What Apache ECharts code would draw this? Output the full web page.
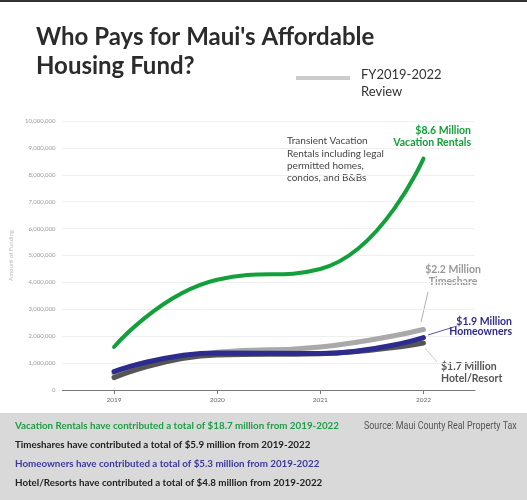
<!DOCTYPE html>
<html>
<head>
<meta charset="utf-8">
<script src="https://cdn.jsdelivr.net/npm/echarts@6/dist/echarts.min.js"></script>
<style>
  html, body { margin: 0; padding: 0; background: #fff; }
  #chart { width: 527px; height: 500px; }
</style>
</head>
<body>
<div id="chart"></div>
<script>
// 数据
var years = ['2019', '2020', '2021', '2022'];
var vacationRentals = [1600000, 4100000, 4500000, 8600000];
var timeshare = [600000, 1400000, 1600000, 2250000];
var homeowners = [680000, 1380000, 1360000, 1950000];
var hotelResort = [460000, 1300000, 1350000, 1750000];
var totalsText = [
    'Vacation Rentals have contributed a total of $18.7 million from 2019-2022',
    'Timeshares have contributed a total of $5.9 million from 2019-2022',
    'Homeowners have contributed a total of $5.3 million from 2019-2022',
    'Hotel/Resorts have contributed a total of $4.8 million from 2019-2022'
];

var FONT = 'Lato';
var GREEN = '#13a03a', LGRAY = '#a9a9a9', BLUE = '#2e2b8f', DGRAY = '#555555';

//千分位
function fmt(v) {
    return v.toString().replace(/\B(?=(\d{3})+(?!\d))/g, ',');
}

function lineSeries(name, data, color, width) {
    return {
        name: name,
        type: 'line',
        data: data,
        smooth: true,
        symbol: 'none',
        lineStyle: { color: color, width: width, cap: 'round' },
        silent: true
    };
}

//文字，x/y 为锚点
function txt(x, y, text, color, size, weight, align, lh, family) {
    return {
        type: 'text',
        x: x, y: y,
        style: {
            text: text,
            fill: color,
            fontFamily: family || FONT,
            fontSize: size,
            fontWeight: weight || 'normal',
            align: align || 'left',
            verticalAlign: 'top',
            lineHeight: lh || size * 1.2
        }
    };
}

function lead(x1, y1, x2, y2, color, w) {
    return {
        type: 'line',
        shape: { x1: x1, y1: y1, x2: x2, y2: y2 },
        style: { stroke: color, lineWidth: w || 0.8 }
    };
}

var myChart = echarts.init(document.getElementById('chart'), null, { renderer: 'canvas' });

// 来源文字用窄体效果
var source = txt(364, 420, 'Source: Maui County Real Property Tax', '#555', 10.5, 'normal', 'left', 12, 'Roboto');
source.scaleX = 0.845;

var graphics = [
    // 顶部边线
    { type: 'rect', shape: { x: 0, y: 0, width: 527, height: 2 }, style: { fill: '#333' } },
    // 底部灰框
    { type: 'rect', shape: { x: 0, y: 413, width: 527, height: 87 }, style: { fill: '#d9d9d9' }, z: -1 },
    // 图例
    lead(296, 78, 350, 78, '#cccccc', 4),
    txt(361, 66, 'FY2019-2022\nReview', '#333', 13, 'normal', 'left', 17),
    // 注释
    txt(287, 135, 'Transient Vacation\nRentals including legal\npermitted homes,\ncondos, and B&Bs', '#444', 10, 'normal', 'left', 12.3),
    txt(471, 125, '$8.6 Million\nVacation Rentals', GREEN, 10.5, 'bold', 'right', 11.8),
    txt(453, 264, '$2.2 Million\nTimeshare', '#999', 10.5, 'bold', 'center', 12),
    txt(512, 317, '$1.9 Million\nHomeowners', BLUE, 10.5, 'bold', 'right', 10),
    txt(441, 360, '$1.7 Million\nHotel/Resort', DGRAY, 10.5, 'bold', 'left', 12.5),
    lead(428, 292, 421, 322, '#999'),
    lead(428, 335, 457, 326, BLUE),
    lead(425, 348, 437, 362, '#bbb'),
    source
];
var totalColors = ['#1f9d45', '#222', '#3a3a9c', '#222'];
for (var i = 0; i < totalsText.length; i++) {
    graphics.push(txt(15, 420 + i * 19, totalsText[i], totalColors[i], 9.8, 'bold', 'left', 12));
}

var option = {
    animation: false,
    title: {
        text: "Who Pays for Maui's Affordable\nHousing Fund?",
        left: 31, top: 18,
        textStyle: { fontFamily: FONT, fontWeight: 'bold', fontSize: 24, color: '#2b2b2b', lineHeight: 29 }
    },
    grid: { left: 53, right: 52, top: 121, bottom: 110 },
    xAxis: {
        type: 'category',
        data: years,
        boundaryGap: true,
        axisLine: { lineStyle: { color: '#777', width: 1 } },
        axisTick: { show: true, alignWithLabel: true, length: 4, lineStyle: { color: '#777' } },
        axisLabel: { color: '#666', fontSize: 6.5, fontFamily: FONT, margin: 6 }
    },
    yAxis: {
        type: 'value',
        min: 0, max: 10000000, interval: 1000000,
        name: 'Amount of Funding',
        nameLocation: 'middle',
        nameRotate: 90,
        nameGap: 41,
        nameTextStyle: { color: '#bbb', fontSize: 6, fontFamily: FONT },
        axisLine: { show: false },
        axisTick: { show: false },
        axisLabel: { color: '#999', fontSize: 6, fontFamily: FONT, margin: 7, formatter: function (v) { return fmt(v); } },
        splitLine: { lineStyle: { color: '#efefef', width: 1 } }
    },
    series: [
        lineSeries('Timeshare', timeshare, LGRAY, 5),
        lineSeries('Hotel/Resort', hotelResort, DGRAY, 5),
        lineSeries('Homeowners', homeowners, BLUE, 5),
        lineSeries('Vacation Rentals', vacationRentals, GREEN, 4)
    ],
    graphic: graphics
};
myChart.setOption(option);
</script>
</body>
</html>
